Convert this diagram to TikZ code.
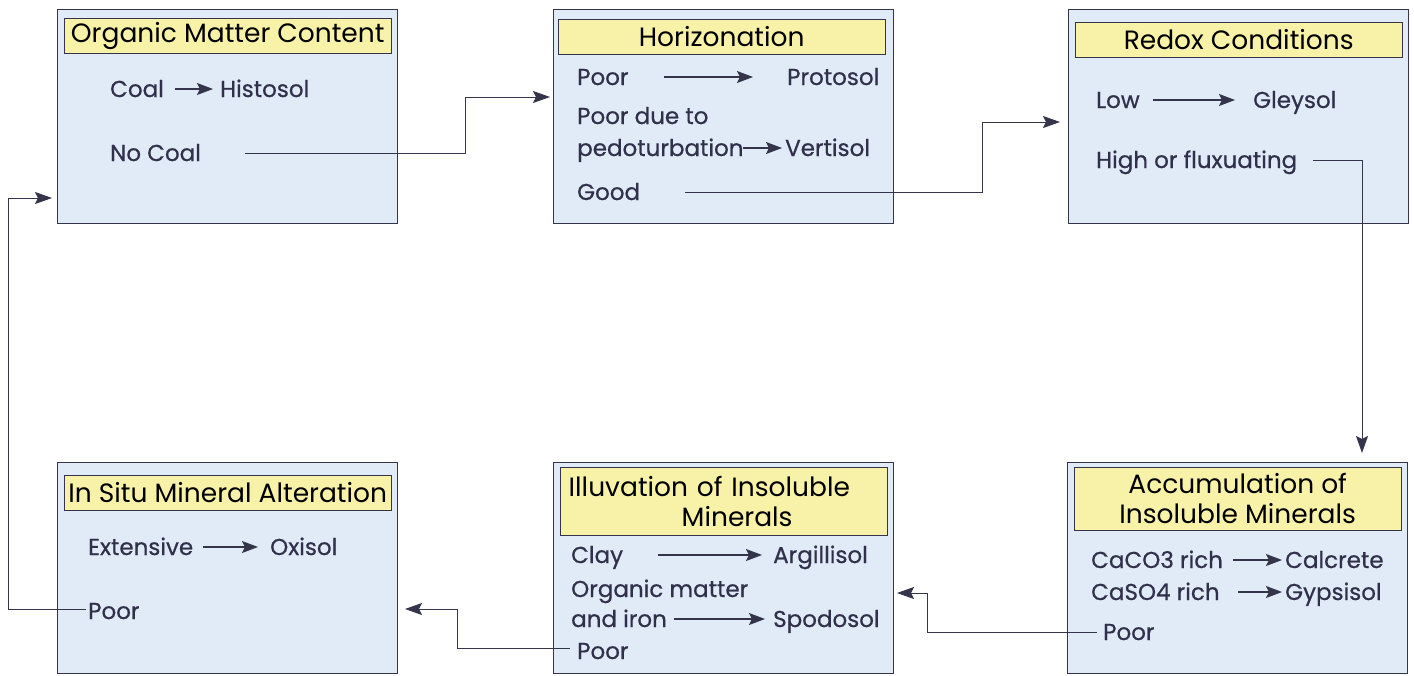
\documentclass[tikz,border=0pt]{standalone}
\usepackage{fontspec}
\setmainfont{Poppins}
\newfontfamily\boxfont{Poppins}[FakeBold=0.6]
\usepackage{xcolor}
\usepackage{tikz}
\usetikzlibrary{arrows.meta}
\usetikzlibrary{positioning,calc}

\definecolor{panelblue}{HTML}{E0EBF7}
\definecolor{headyellow}{HTML}{F8F2A8}
\definecolor{linegray}{HTML}{34344A}
\definecolor{textnavy}{HTML}{30304A}

\newcommand{\bodysize}{\boxfont\fontsize{23}{28}\selectfont}
\newcommand{\headsize}{\fontsize{26.5}{30}\selectfont}

\begin{document}
\begin{tikzpicture}[x=1pt,y=-1pt,
	panel/.style={draw=linegray,fill=panelblue,anchor=north west,inner sep=0pt,minimum width=340pt,minimum height=214pt},
	head/.style={draw=linegray,fill=headyellow,inner sep=0pt,minimum width=327pt,minimum height=35pt,font=\headsize,align=center},
	word/.style={anchor=base west,inner sep=0pt,text=textnavy,font=\bodysize},
	tip/.style={draw=linegray,line width=1.1pt,-{Stealth[length=16pt,width=12pt,inset=3pt]}},
	link/.style={draw=linegray,line width=1pt,-{Stealth[length=17pt,width=12pt,inset=3pt]}}]
	\useasboundingbox (0,0) rectangle (1414,675);
	% panels
	\node[panel] (omc) at (57,9) {};
	\node[panel] (hor) at (553,9) {};
	\node[panel] (rdx) at (1068,9) {};
	\node[panel,minimum height=211pt] (ism) at (57,462) {};
	\node[panel,minimum height=211pt] (ilv) at (553,462) {};
	\node[panel,minimum height=211pt] (aim) at (1067,462) {};
	% headings
	\node[head,below right=9pt and 7pt of omc.north west] (omc-h) {Organic Matter Content};
	\node[head,below right=10pt and 5pt of hor.north west] (hor-h) {Horizonation};
	\node[head,below right=13pt and 7pt of rdx.north west] (rdx-h) {Redox Conditions};
	\node[head,below right=13pt and 7pt of ism.north west] (ism-h) {In Situ Mineral Alteration};
	\node[head,align=left,text width=310pt,minimum height=68pt,below right=5pt and 7pt of ilv.north west] (ilv-h) {Illuvation of Insoluble\\\hspace*{113pt}Minerals};
	\node[head,minimum height=63pt,below right=5pt and 7pt of aim.north west] (aim-h) {Accumulation of\\Insoluble Minerals};
	% organic matter
	\node[word] (coal) at (110,97) {Coal};
	\node[word] (histosol) at (220,97) {Histosol};
	\node[word] (nocoal) at (110,161) {No Coal};
	\draw[tip] ([xshift=-45pt,yshift=8pt]histosol.base west) -- ([xshift=-7pt,yshift=8pt]histosol.base west);
	% horizonation
	\node[word] (poorH) at (577,85) {Poor};
	\node[word] (protosol) at (787,85) {Protosol};
	\node[word] (pdue) at (577,124) {Poor due to};
	\node[word] (pedo) at (577,156) {pedoturbation};
	\node[word] (vertisol) at (785,156) {Vertisol};
	\node[word] (good) at (577,200) {Good};
	\draw[tip] ([xshift=-123pt,yshift=8pt]protosol.base west) -- ([xshift=-34pt,yshift=8pt]protosol.base west);
	\draw[tip] ([xshift=-42pt,yshift=8pt]vertisol.base west) -- ([xshift=-3pt,yshift=8pt]vertisol.base west);
	% redox
	\node[word] (low) at (1096,108) {Low};
	\node[word] (gleysol) at (1253,108) {Gleysol};
	\node[word] (high) at (1096,168) {High or fluxuating};
	\draw[tip] ([xshift=-100pt,yshift=8pt]gleysol.base west) -- ([xshift=-18pt,yshift=8pt]gleysol.base west);
	% accumulation
	\node[word] (caco) at (1091,568) {CaCO3 rich};
	\node[word] (calcrete) at (1285,568) {Calcrete};
	\node[word] (caso) at (1091,600) {CaSO4 rich};
	\node[word] (gypsisol) at (1285,600) {Gypsisol};
	\node[word] (poorA) at (1103,640) {Poor};
	\draw[tip] ([xshift=-52pt,yshift=8pt]calcrete.base west) -- ([xshift=-3pt,yshift=8pt]calcrete.base west);
	\draw[tip] ([xshift=-47pt,yshift=8pt]gypsisol.base west) -- ([xshift=-3pt,yshift=8pt]gypsisol.base west);
	% illuvation
	\node[word] (clay) at (571,563) {Clay};
	\node[word] (argillisol) at (773,563) {Argillisol};
	\node[word] (orgm) at (571,597) {Organic matter};
	\node[word] (iron) at (571,627) {and iron};
	\node[word] (spodosol) at (773,627) {Spodosol};
	\node[word] (poorI) at (577,659) {Poor};
	\draw[tip] ([xshift=-115pt,yshift=8pt]argillisol.base west) -- ([xshift=-11pt,yshift=8pt]argillisol.base west);
	\draw[tip] ([xshift=-99pt,yshift=8pt]spodosol.base west) -- ([xshift=-8pt,yshift=8pt]spodosol.base west);
	% in situ
	\node[word] (extensive) at (88,555) {Extensive};
	\node[word] (oxisol) at (270,555) {Oxisol};
	\node[word] (poorS) at (88,619) {Poor};
	\draw[tip] ([xshift=-67pt,yshift=8pt]oxisol.base west) -- ([xshift=-12pt,yshift=8pt]oxisol.base west);
	% turning points and free ends of the links
	\coordinate (hor-turn) at (465,97);
	\coordinate (hor-in) at (550,97);
	\coordinate (rdx-turn) at (982,122);
	\coordinate (rdx-in) at (1060,122);
	\coordinate (aim-in) at (1362,453);
	\coordinate (ilv-turn) at (927,593);
	\coordinate (ilv-in) at (897,593);
	\coordinate (ism-turn) at (457,609);
	\coordinate (ism-in) at (405,609);
	\coordinate (omc-turn) at (8,198);
	\coordinate (omc-in) at (52,198);
	% links between panels
	\draw[link] ([xshift=135pt,yshift=8pt]nocoal.base west) -| (hor-turn) -- (hor-in);
	\draw[link] ([xshift=108pt,yshift=8pt]good.base west) -| (rdx-turn) -- (rdx-in);
	\draw[link] ([xshift=217pt,yshift=8pt]high.base west) -| (aim-in);
	\draw[link] ([xshift=-6pt,yshift=8pt]poorA.base west) -| (ilv-turn) -- (ilv-in);
	\draw[link] ([xshift=-7pt,yshift=11pt]poorI.base west) -| (ism-turn) -- (ism-in);
	\draw[link] ([xshift=-2pt,yshift=10pt]poorS.base west) -| (omc-turn) -- (omc-in);
\end{tikzpicture}
\end{document}
